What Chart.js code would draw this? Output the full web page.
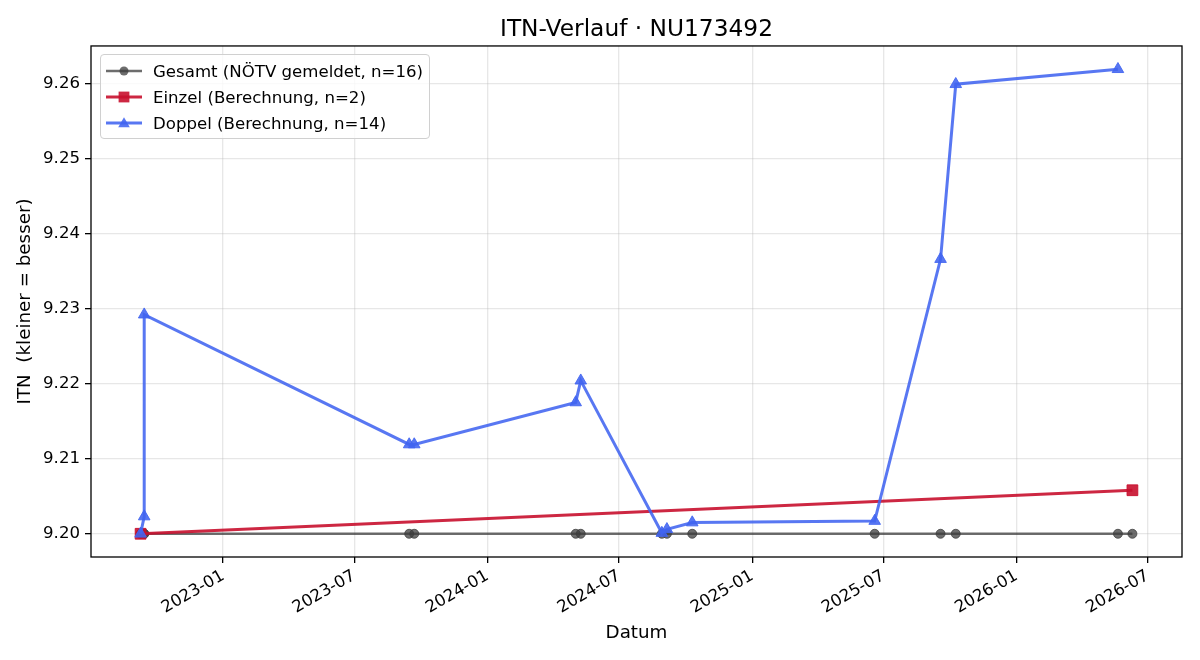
<!DOCTYPE html>
<html>
<head>
<meta charset="utf-8">
<title>ITN-Verlauf</title>
<script src="https://cdn.jsdelivr.net/npm/chart.js@4.4.0/dist/chart.umd.min.js"></script>
<style>
  body { margin: 0; background: #fff; }
  #wrap { position: relative; width: 1200px; height: 660px; }
  #legend {
    position: absolute; left: 100px; top: 54px; width: 330px; height: 85px;
    box-sizing: border-box; border: 1px solid #d0d0d0; border-radius: 4px;
    background: rgba(255, 255, 255, 0.8);
    font-family: 'DejaVu Sans', sans-serif; font-size: 16.6px; color: #000;
  }
  .row { position: absolute; left: 0; height: 20px; display: flex; align-items: center; white-space: nowrap; }
  .row svg { margin-left: 5px; margin-right: 11px; }
</style>
</head>
<body>
<div id="wrap">
  <canvas id="itnChart" width="1200" height="660"></canvas>
  <div id="legend"></div>
</div>
<script>
// Match dates and ITN values
const gesamtDates = ['2022-09-09', '2022-09-09', '2022-09-14', '2022-09-14', '2023-09-15', '2023-09-22',
  '2024-05-02', '2024-05-09', '2024-08-29', '2024-09-05', '2024-10-10', '2025-06-19',
  '2025-09-18', '2025-10-09', '2026-05-21', '2026-06-10'];
const gesamtITN = [9.20, 9.20, 9.20, 9.20, 9.20, 9.20, 9.20, 9.20,
  9.20, 9.20, 9.20, 9.20, 9.20, 9.20, 9.20, 9.20];

const einzelDates = ['2022-09-09', '2026-06-10'];
const einzelITN = [9.2000, 9.2058];

const doppelDates = ['2022-09-09', '2022-09-14', '2022-09-14', '2023-09-15', '2023-09-22',
  '2024-05-02', '2024-05-09', '2024-08-29', '2024-09-05', '2024-10-10',
  '2025-06-19', '2025-09-18', '2025-10-09', '2026-05-21'];
const doppelITN = [9.2000, 9.2023, 9.2292, 9.2119, 9.2119,
  9.2175, 9.2204, 9.2001, 9.2006, 9.2015,
  9.2017, 9.2366, 9.2599, 9.2619];

const seriesLabels = ['Gesamt (NÖTV gemeldet, n=16)', 'Einzel (Berechnung, n=2)', 'Doppel (Berechnung, n=14)'];
const xTickLabels = ['2023-01', '2023-07', '2024-01', '2024-07', '2025-01', '2025-07', '2026-01', '2026-07'];
const yTickValues = [9.20, 9.21, 9.22, 9.23, 9.24, 9.25, 9.26];

// turn date strings + values into {x, y} points
function toPoints(dates, values) {
	return dates.map(function(d, i) {
		return { x: Date.parse(d), y: values[i] };
	});
}

// 5% margin on both sides, like the original plot
var allX = gesamtDates.concat(einzelDates, doppelDates).map(function(d){ return Date.parse(d); });
var allY = gesamtITN.concat(einzelITN, doppelITN);
var xMin = Math.min.apply(null, allX), xMax = Math.max.apply(null, allX);
var yMin = Math.min.apply(null, allY), yMax = Math.max.apply(null, allY);
var xPad = (xMax - xMin) * 0.05, yPad = (yMax - yMin) * 0.05;

const baseFont = { family: 'DejaVu Sans', size: 16.6 };
const gridStyle = {
	color: 'rgba(176,176,176,0.3)',
	lineWidth: 1.3,
	tickColor: '#000',
	tickLength: 6,
	tickWidth: 1.3
};

/** Draws the black box round the plot area */
const framePlugin = {
	id: 'frame',
	afterDatasetsDraw: function(chart) {
		const a = chart.chartArea, ctx = chart.ctx;
		ctx.save();
		ctx.strokeStyle = '#000';
		ctx.lineWidth = 1.3;
		ctx.strokeRect(a.left, a.top, a.right - a.left, a.bottom - a.top);
		ctx.restore();
	}
};

const ctx = document.getElementById('itnChart').getContext('2d');
const itnChart = new Chart(ctx, {
	type: 'line',
	data: {
		datasets: [{
			label: seriesLabels[0],
			data: toPoints(gesamtDates, gesamtITN),
			borderColor: 'rgba(60,60,60,0.75)',
			backgroundColor: 'rgba(60,60,60,0.75)',
			borderWidth: 2.5,
			pointStyle: 'circle',
			pointRadius: 4.5,
			pointBorderWidth: 1,
			order: 3
		}, {
			label: seriesLabels[1],
			data: toPoints(einzelDates, einzelITN),
			borderColor: 'rgba(200,16,46,0.9)',
			backgroundColor: 'rgba(200,16,46,0.9)',
			borderWidth: 3,
			pointStyle: 'rect',
			pointRadius: 7.6,
			pointBorderWidth: 1,
			order: 2
		}, {
			label: seriesLabels[2],
			data: toPoints(doppelDates, doppelITN),
			borderColor: 'rgba(65,100,240,0.88)',
			backgroundColor: 'rgba(65,100,240,0.88)',
			borderWidth: 3,
			pointStyle: 'triangle',
			pointRadius: 6.7,
			pointBorderWidth: 1,
			order: 1
		}]
	},
	options: {
		responsive: false,
		animation: false,
		layout: { padding: { left: 0, right: 18, top: 0, bottom: 0 } },
		plugins: {
			legend: { display: false },
			tooltip: { enabled: false },
			title: {
				display: true,
				text: 'ITN-Verlauf · NU173492',
				fullSize: false,
				color: '#000',
				font: { family: 'DejaVu Sans', size: 23.3, weight: 'normal' },
				padding: { top: 16, bottom: 2 }
			}
		},
		scales: {
			x: {
				type: 'linear',
				min: xMin - xPad,
				max: xMax + xPad,
				border: { display: false },
				grid: gridStyle,
				afterBuildTicks: function(scale) {
					scale.ticks = xTickLabels.map(function(l) { return { value: Date.parse(l + '-01') }; });
				},
				afterFit: function(scale) { scale.height = 103; },
				ticks: {
					autoSkip: false,
					minRotation: 30,
					maxRotation: 30,
					padding: 3,
					color: '#000',
					font: baseFont,
					callback: function(value, index) { return xTickLabels[index]; }
				},
				title: {
					display: true,
					text: 'Datum',
					color: '#000',
					font: { family: 'DejaVu Sans', size: 18.3 },
					padding: { top: 0, bottom: 16 }
				}
			},
			y: {
				type: 'linear',
				min: yMin - yPad,
				max: yMax + yPad,
				border: { display: false },
				grid: gridStyle,
				afterBuildTicks: function(scale) {
					scale.ticks = yTickValues.map(function(v) { return { value: v }; });
				},
				afterFit: function(scale) { scale.width = 91; },
				ticks: {
					padding: 5,
					color: '#000',
					font: baseFont,
					callback: function(value) { return value.toFixed(2); }
				},
				title: {
					display: true,
					text: 'ITN  (kleiner = besser)',
					color: '#000',
					font: { family: 'DejaVu Sans', size: 18.3 },
					padding: { top: 14, bottom: 0 }
				}
			}
		}
	},
	plugins: [framePlugin]
});

// HTML legend with line + marker, built from the datasets
const legendBox = document.getElementById('legend');
const markerShapes = {
	circle: '<circle cx="18" cy="10" r="4.5"/>',
	rect: '<rect x="12.6" y="4.6" width="10.8" height="10.8"/>',
	triangle: '<polygon points="18,4.2 23.8,14.2 12.2,14.2"/>'
};
itnChart.data.datasets.forEach(function(ds, i) {
	const row = document.createElement('div');
	row.className = 'row';
	row.style.top = (6 + i * 26) + 'px';
	row.innerHTML = '<svg width="36" height="20" viewBox="0 0 36 20">' +
		'<line x1="0" y1="10" x2="36" y2="10" stroke="' + ds.borderColor + '" stroke-width="' + ds.borderWidth + '"/>' +
		'<g fill="' + ds.backgroundColor + '">' + markerShapes[ds.pointStyle] + '</g></svg>' +
		'<span>' + ds.label + '</span>';
	legendBox.appendChild(row);
});
</script>
</body>
</html>
